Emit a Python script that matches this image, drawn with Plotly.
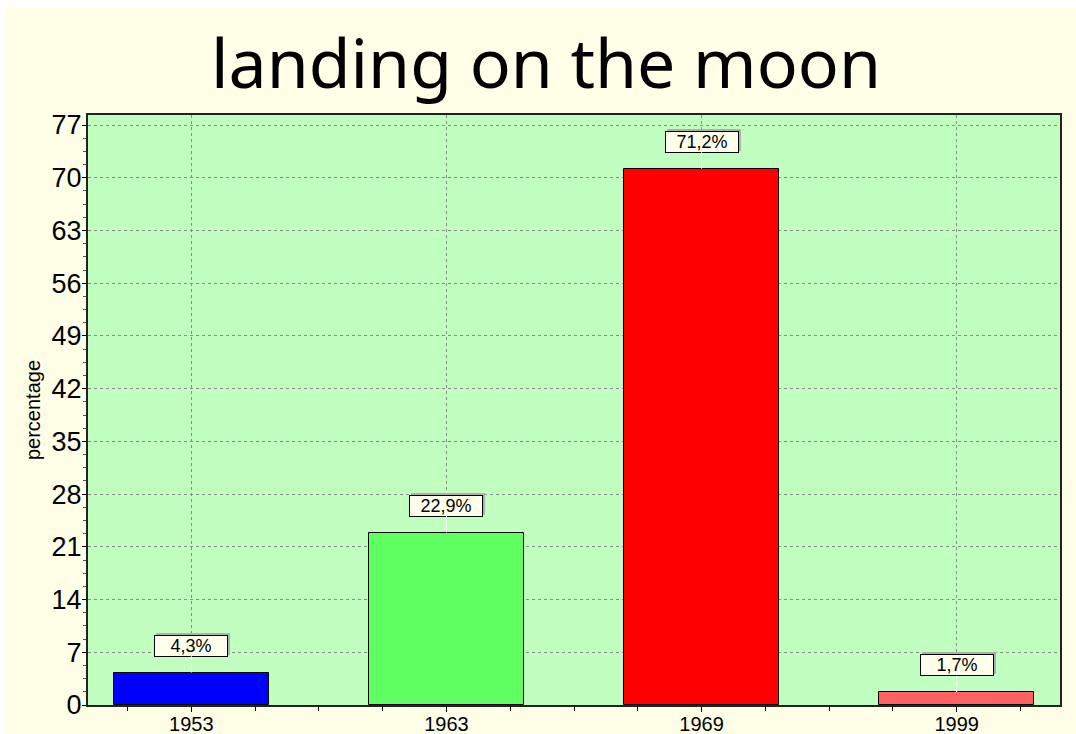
import plotly.graph_objects as go

# data
years = ['1953', '1963', '1969', '1999']
percent = [4.3, 22.9, 71.2, 1.7]
labels = ['4,3%', '22,9%', '71,2%', '1,7%']
bar_colors = ['#0000FF', '#60FF60', '#FF0000', '#FF6060']
yticks = list(range(0, 78, 7))

xpos = list(range(len(years)))

fig = go.Figure()
fig.add_trace(go.Bar(x=xpos, y=percent, width=0.61,
                     marker=dict(color=bar_colors, line=dict(color='black', width=1)),
                     hoverinfo='skip'))

# value labels: shadow box + label box with a white connector down to the bar
for i in range(len(years)):
    fig.add_annotation(x=xpos[i], y=percent[i], text=labels[i], showarrow=True,
                       ax=2, ay=-29, arrowcolor='rgba(0,0,0,0)', arrowwidth=1,
                       font=dict(family='Liberation Sans', size=18, color='rgba(0,0,0,0)'),
                       bgcolor='#b0b0a8', width=70, height=18, borderpad=1,
                       borderwidth=1, bordercolor='#b0b0a8')
    fig.add_annotation(x=xpos[i], y=percent[i], text=labels[i], showarrow=True,
                       ax=0, ay=-27, arrowcolor='white', arrowwidth=1, arrowhead=0,
                       standoff=0,
                       font=dict(family='Liberation Sans', size=18, color='black'),
                       bgcolor='#FFFFEB', width=70, height=18, borderpad=1,
                       borderwidth=1, bordercolor='black')

fig.update_layout(
    width=1076, height=734,
    margin=dict(l=80, r=24, t=107, b=37),
    paper_bgcolor='#FFFFE8',
    plot_bgcolor='#C0FFC0',
    showlegend=False,
    bargap=0,
    title=dict(text='landing on the moon', x=0.5, xref='container', xanchor='center',
               y=0.924, yref='container', yanchor='middle',
               font=dict(family='Noto Sans', size=68, color='black')),
    xaxis=dict(range=[-0.405, 3.405], tickvals=xpos, ticktext=years,
               tickfont=dict(family='Liberation Sans', size=20, color='black'),
               ticks='outside', ticklen=5, tickcolor='black', ticklabelstandoff=-5,
               showgrid=True, gridcolor='#8a8a8a', griddash='3px,3px', gridwidth=1,
               minor=dict(dtick=0.25, tick0=0, ticks='outside', ticklen=4,
                          tickcolor='black', showgrid=False),
               showline=True, linecolor='#222', linewidth=2, mirror=True,
               zeroline=False, fixedrange=True, automargin=False),
    yaxis=dict(range=[0, 78.33], tickvals=yticks,
               tickfont=dict(family='Liberation Sans', size=27, color='black'),
               ticks='outside', ticklen=4, tickcolor='black', ticklabelstandoff=-5,
               showgrid=True, gridcolor='#8a8a8a', griddash='3px,3px', gridwidth=1,
               minor=dict(dtick=1.75, tick0=0, ticks='outside', ticklen=3,
                          tickcolor='#555', showgrid=False),
               title=dict(text='percentage', standoff=6,
                          font=dict(family='Liberation Sans', size=20, color='black')),
               showline=True, linecolor='#222', linewidth=2, mirror=True,
               zeroline=False, fixedrange=True, automargin=False),
)

# page: no scrollbars, cream behind the right edge, white strips top and left
page_js = ("document.body.style.overflow='hidden';"
           "document.documentElement.style.background="
           "'linear-gradient(to right, #FFFFFF 6px, rgba(0,0,0,0) 6px),"
           " linear-gradient(#FFFFFF 8px, #FFFFE8 8px)';"
           "document.body.style.background='transparent';")
fig.write_html('out.html', post_script=page_js)
